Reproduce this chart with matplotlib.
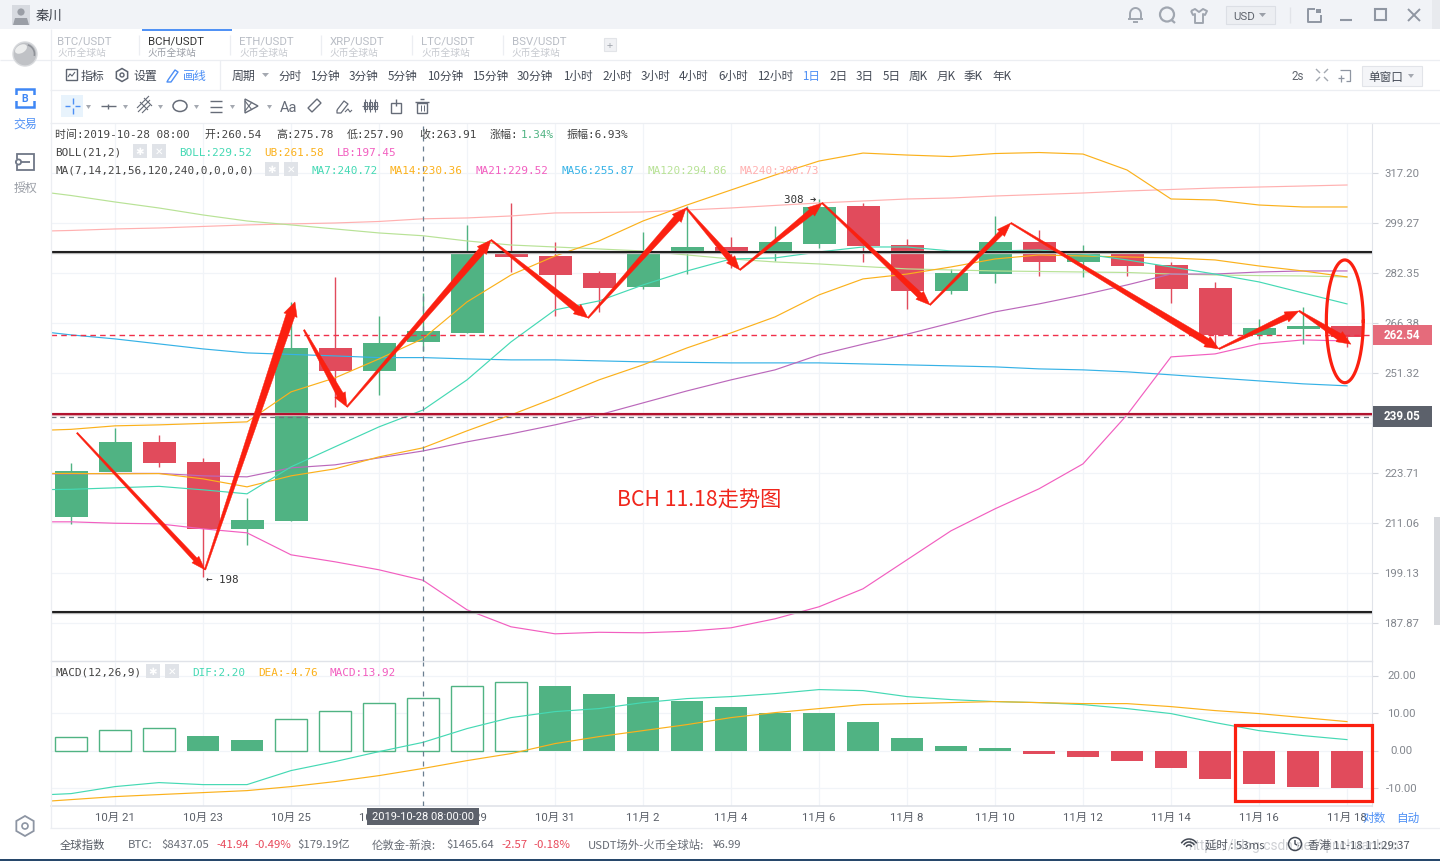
import numpy as np
import matplotlib
matplotlib.use("Agg")
import matplotlib.pyplot as plt
from matplotlib.patches import Rectangle, Polygon, Circle, RegularPolygon, Ellipse
from matplotlib.transforms import IdentityTransform, Affine2D

plt.rcParams['font.family'] = ['Noto Sans CJK SC', 'DejaVu Sans']
MONO = ['DejaVu Sans Mono', 'Noto Sans CJK SC']
ROB = ['Roboto', 'Noto Sans CJK SC']

# ---------- data ----------
opens = [212.58,224.01,231.97,226.63,209.63,211.60,258.80,251.95,260.54,263.35,289.00,288.00,282.35,277.80,289.00,291.00,
         289.00,292.10,305.20,291.70,276.50,282.00,292.75,286.00,289.00,285.00,277.50,262.70,264.55,265.45]
closes = [224.27,231.97,226.37,209.63,211.84,258.80,251.95,260.30,263.91,289.00,287.70,281.70,277.50,288.70,291.00,289.00,
          292.75,304.90,291.40,276.50,282.35,292.75,286.00,289.70,284.70,277.20,262.70,264.85,265.45,262.10]
highs = [226.37,235.78,233.87,227.70,217.30,273.00,281.05,268.60,275.78,298.60,306.30,292.75,283.00,296.20,305.30,294.40,
         298.20,307.70,306.30,293.75,283.70,301.70,296.85,291.70,289.30,286.00,279.40,267.65,271.40,265.45]
lows = [210.86,223.70,225.30,198.20,205.80,211.60,241.60,245.00,257.90,263.35,282.70,268.60,269.85,277.15,282.00,284.00,
        286.30,290.70,286.00,270.80,275.50,279.10,281.40,281.05,281.40,272.70,258.80,261.50,259.90,259.00]
# moving averages start one day before the first visible candle
ma7 = [219.37,219.50,219.88,220.26,219.37,218.35,225.31,230.63,236.05,240.72,249.32,260.58,270.47,273.32,278.45,283.02,
       287.00,287.34,289.35,291.03,291.03,289.68,289.68,290.02,288.68,286.67,284.34,282.00,279.43,275.87,272.37]
ma14 = [223.60,223.60,223.49,223.55,222.19,220.13,222.97,224.79,227.95,230.36,234.96,239.36,244.15,249.32,253.71,258.77,
        263.33,268.28,275.24,280.41,282.00,284.34,287.00,288.34,288.00,287.67,287.34,286.67,284.67,283.02,281.05]
ma21 = [223.49,223.49,223.60,223.60,222.97,222.71,225.05,225.84,227.69,229.52,231.97,234.14,236.60,239.36,242.73,246.14,
        249.32,252.24,256.68,259.89,262.94,266.38,269.85,272.37,275.24,278.45,282.00,282.00,282.68,283.02,283.02]
ma56 = [264.25,262.72,261.50,259.98,258.47,257.27,256.82,256.37,255.87,255.87,255.48,255.19,255.19,254.90,254.60,254.45,
        254.30,254.30,254.30,254.00,253.71,253.42,253.12,252.53,252.24,251.66,250.79,249.90,249.03,248.17,247.60]
ma120 = [310.99,309.00,306.68,304.54,302.08,299.97,298.60,297.20,295.82,294.86,293.08,291.70,291.03,290.36,289.68,288.34,
         287.00,286.00,285.34,284.50,283.70,283.35,283.02,282.85,282.68,282.52,282.00,281.70,281.50,281.38,281.05]
ma240 = [296.33,296.68,297.20,297.54,298.07,298.60,298.95,299.27,299.80,300.73,301.03,301.73,302.79,302.96,303.13,303.84,
         304.55,305.45,306.32,307.03,307.75,308.10,308.82,309.36,309.90,310.63,311.17,311.71,312.07,312.43,312.80]
boll_ub = [234.96,235.37,236.33,236.60,237.00,237.43,245.86,249.90,255.48,261.58,273.00,281.70,288.00,293.08,299.97,305.60,
           310.99,316.46,321.64,324.65,323.90,323.33,324.47,324.85,324.27,318.31,307.75,307.39,305.60,304.90,304.90]
boll_lb = [211.35,211.35,211.00,210.86,209.63,208.66,203.39,201.74,199.87,197.45,190.78,187.04,185.52,185.85,185.74,186.07,
           186.82,188.79,191.45,195.50,202.21,209.15,214.57,219.63,226.10,239.36,256.08,256.97,260.00,261.19,260.89]
macd_hist = [3.73,5.60,6.13,4.00,2.93,8.53,10.67,12.80,13.92,17.33,18.40,17.33,15.20,14.40,13.33,11.73,
             10.13,10.13,7.73,3.47,1.33,0.80,-0.80,-1.60,-2.67,-4.53,-7.47,-8.80,-9.60,-9.87]
dif = [-12.00,-11.47,-9.60,-8.53,-9.07,-9.07,-5.33,-2.93,-0.27,2.20,5.87,8.80,10.40,11.20,12.80,13.87,
       14.40,15.20,16.27,16.00,14.40,13.60,13.07,12.80,12.27,11.20,9.87,7.47,5.33,4.00,2.93]
dea = [-13.87,-13.07,-12.27,-11.73,-11.20,-10.67,-9.60,-8.27,-6.67,-4.76,-2.67,-0.80,1.87,3.73,5.33,6.93,
       8.80,10.13,11.20,12.27,12.53,12.80,13.07,12.80,12.53,12.53,11.73,10.67,9.87,8.80,7.73]
price_ticks = [317.20,299.27,282.35,266.38,251.32,237.11,223.71,211.06,199.13,187.87]
macd_ticks = [20.0,10.0,0.0,-10.0]
date_labels = ['10月 21','10月 23','10月 25','10月 27','10月 29','10月 31','11月 2','11月 4','11月 6','11月 8',
               '11月 10','11月 12','11月 14','11月 16','11月 18']
levels_black = [289.18,190.34]
level_red = 239.56
level_last = 262.54
level_cross = 238.80
cross_day = 8
arrow_from = [(0.136,234.41),(3.045,199.87),(5.295,264.25),(6.27,241.60),(9.545,293.42),(11.75,267.96),(13.98,304.55),
              (15.20,283.35),(17.07,306.32),(19.52,272.05),(21.36,299.27),(26.09,258.47),(27.91,270.15)]
arrow_to = [(3.045,199.87),(5.09,273.00),(6.27,241.60),(9.545,293.42),(11.75,267.96),(13.98,304.55),(15.20,283.35),
            (17.07,306.32),(19.52,272.05),(21.36,299.27),(26.09,258.47),(27.91,270.15),(29.09,259.89)]
arrow_necks = [4.5,9,7,7,7,7,6,6,6,5,7,6,7]

# ---------- colours ----------
GREEN, RED = '#50b383', '#e14b5c'
TEAL, ORANGE, PINK, BLUE, LGREEN, SALMON = '#45d9b4', '#fbb11c', '#f25fc0', '#36b2e6', '#b8e296', '#ffb0b0'
PURPLE, GRID, AXC, TXT, TICK = '#bb68bb', '#f1f4f8', '#e0e3e9', '#444a55', '#83878e'
ARROW = '#fb2010'

W, H = 1440, 862
fig = plt.figure(figsize=(W/100, H/100), dpi=100, facecolor='white')
def axpx(l, t, r, b, **k):
    return fig.add_axes([l/W, 1-b/H, (r-l)/W, (b-t)/H], **k)

L, R, T1, B1, T2, B2 = 51, 1372, 124, 662, 663, 807
ax = axpx(L, T1, R, B1)
mx = axpx(L, T2, R, B2)
days = np.arange(30)
line_days = np.arange(-1, 30)
xl = ((L-71)/44, (R-71)/44)
def nudge(labels, dy):
    for t in labels:
        t.set_transform(t.get_transform() + Affine2D().translate(0, dy))

# ---------- price pane ----------
ax.set_yscale('log')
k = np.log(price_ticks[0]/price_ticks[-1])/450.0
Y0 = 174.0
ax.set_ylim(price_ticks[0]*np.exp(-k*(B1-Y0)), price_ticks[0]*np.exp(k*(Y0-T1)))
ax.set_xlim(*xl)
ax.set_yticks(price_ticks)
ax.set_yticklabels([f'{v:.2f}' for v in price_ticks])
ax.minorticks_off()
ax.yaxis.set_minor_locator(matplotlib.ticker.NullLocator())
ax.yaxis.tick_right()
ax.set_xticks(days[1::2])
ax.tick_params(axis='x', length=0, labelbottom=False)
ax.tick_params(axis='y', length=4.3, width=0.8, color='#d5d8de', labelcolor=TICK, pad=17, labelsize=8.2)
for t in ax.get_yticklabels():
    t.set_ha('center'); t.set_family(ROB)
nudge(ax.get_yticklabels(), 1.0)
ax.grid(True, color=GRID, lw=0.9)
ax.set_axisbelow(True)

colors = [GREEN if c >= o else RED for o, c in zip(opens, closes)]
ax.vlines(days, lows, highs, colors=colors, lw=1.0, zorder=2)
ax.bar(days, np.abs(np.array(closes)-np.array(opens)), bottom=np.minimum(opens, closes), width=0.75,
       color=colors, lw=0, zorder=2.1)
for vals, c in [(ma240, SALMON), (ma120, LGREEN), (ma56, BLUE), (ma21, PURPLE), (ma14, ORANGE), (ma7, TEAL),
                (boll_ub, ORANGE), (boll_lb, PINK)]:
    ax.plot(line_days, vals, color=c, lw=0.85, zorder=3, solid_joinstyle='miter')

for y in levels_black:
    ax.axhline(y, color='#b5b5b5', lw=2.4, zorder=4)
    ax.axhline(y, color='#111111', lw=1.3, zorder=4.1)
ax.axhline(level_red, color='#dfa0aa', lw=2.4, zorder=4)
ax.axhline(level_red, color='#b0102c', lw=1.4, zorder=4.1)
ax.axhline(level_last, color='#f0304a', lw=1.0, dashes=(4, 3), zorder=4)
ax.axhline(level_cross, color='#6b7280', lw=0.9, dashes=(4, 3), zorder=4)
ax.axvline(cross_day, color='#6b7f90', lw=0.9, dashes=(4, 4), zorder=4)

ax.annotate('308 ➔', (17, 307.7), xytext=(-35, 0), textcoords='offset pixels', va='center', fontsize=7.8,
            family=['DejaVu Sans Mono'], color='#333333', zorder=5)
ax.annotate('← 198', (3, 198.2), xytext=(3, -2), textcoords='offset pixels', va='center', fontsize=7.8,
            family=['DejaVu Sans Mono'], color='#333333', zorder=5)

# hand-drawn style red arrows, tapered from tail to head
def tapered(p0, p1, neck, a=ax, tail=1.5, hl=14.0):
    s = a.transData.transform(p0); e = a.transData.transform(p1)
    d = e - s; n = np.hypot(*d); u = d/n; v = np.array([-u[1], u[0]])
    b = e - u*hl
    head = neck + 5
    pts = [s+v*tail/2, b+v*neck/2, b+v*head/2, e, b-v*head/2, b-v*neck/2, s-v*tail/2]
    fig.add_artist(Polygon(pts, closed=True, transform=IdentityTransform(), fc=ARROW, ec=ARROW, lw=0.3, zorder=6))
fig.canvas.draw()
for p0, p1, nk in zip(arrow_from, arrow_to, arrow_necks):
    tapered(p0, p1, nk)
# circled last candle
th = np.linspace(0, 2*np.pi, 200)
cx, rx = 28.95, 0.42
ptop, pbot = 286.67, 248.50
lc = (np.log(ptop)+np.log(pbot))/2
lr = (np.log(ptop)-np.log(pbot))/2
ax.plot(cx+rx*np.cos(th), np.exp(lc+lr*np.sin(th)), color=ARROW, lw=2.3, zorder=6)

# ---------- MACD pane ----------
Z0 = 751.6
mx.set_ylim(-(B2-Z0)/3.75, (Z0-T2)/3.75)
mx.set_xlim(*xl)
mx.set_yticks(macd_ticks)
mx.set_yticklabels([f'{v:.2f}' for v in macd_ticks])
mx.yaxis.tick_right()
mx.set_xticks(days[1::2])
mx.set_xticklabels(date_labels)
mx.tick_params(axis='x', length=0, pad=4.4, labelcolor='#5a5f68', labelsize=8.2)
mx.tick_params(axis='y', length=4.3, width=0.8, color='#d5d8de', labelcolor=TICK, pad=17, labelsize=8.2)
for t in mx.get_yticklabels() + mx.get_xticklabels():
    t.set_family(ROB)
for t in mx.get_yticklabels():
    t.set_ha('center')
nudge(mx.get_yticklabels(), 1.4)
mx.grid(True, color=GRID, lw=0.9)
mx.set_axisbelow(True)
prev = None
for d, v in zip(days, macd_hist):
    rising = prev is None or v > prev
    if v >= 0 and rising:
        mx.bar(d, v, width=0.71, fc='white', ec=GREEN, lw=1.0, zorder=2)
    else:
        mx.bar(d, v, width=0.74, color=GREEN if v >= 0 else RED, lw=0, zorder=2)
    prev = v
mx.plot(line_days, dif, color=TEAL, lw=0.85, zorder=3)
mx.plot(line_days, dea, color=ORANGE, lw=0.85, zorder=3)
mx.axvline(cross_day, color='#6b7f90', lw=0.9, dashes=(4, 4), zorder=4)
mx.add_patch(Rectangle((26.45, -13.47), 3.11, 20.4, fill=False, ec=ARROW, lw=2.3, zorder=6, clip_on=False))

for a in (ax, mx):
    for s in a.spines.values():
        s.set_visible(False)
    a.spines['right'].set_visible(True); a.spines['right'].set_color(AXC)
    a.patch.set_alpha(0)
    a.spines['bottom'].set_visible(True); a.spines['bottom'].set_color(AXC)
ax.spines['bottom'].set_linewidth(1.0)
mx.spines['bottom'].set_linewidth(1.2)

# ---------- application chrome (pixel coordinates) ----------
ui = axpx(0, 0, W, H, zorder=10)
ui.set_xlim(0, W); ui.set_ylim(H, 0); ui.axis('off'); ui.patch.set_alpha(0)
def box(x0, y0, x1, y1, fc='none', ec='none', lw=0.8, z=1):
    ui.add_patch(Rectangle((x0, y0), x1-x0, y1-y0, fc=fc, ec=ec, lw=lw, zorder=z))
def ln(xs, ys, c='#7d8593', lw=1.0, z=2):
    ui.plot(xs, ys, color=c, lw=lw, zorder=z, solid_capstyle='butt')
def tx(x, y, s, c='#444a55', fs=8.4, ha='left', fam=None, z=3, **kw):
    ui.text(x, y+0.6, s, color=c, fontsize=fs, ha=ha, va='center', family=fam or plt.rcParams['font.family'], zorder=z, **kw)

box(0, 0, W, 30, fc='#f1f3f7')
box(1432, 0, W, 30, fc='#e8eaee')
box(12, 6, 30, 26, fc='#d7dae0')
ui.add_patch(Circle((21, 13), 3.6, fc='#9a9ea6', ec='none', zorder=2))
ui.add_patch(Polygon([(13, 26), (15, 19), (27, 19), (29, 26)], fc='#9a9ea6', ec='none', zorder=2))
tx(36, 15, '秦川', '#3a3f48', 9.6)
# window buttons
t_ = np.linspace(np.pi, 2*np.pi, 20)
G = '#a0a6b0'
ui.plot(np.r_[1130, 1135.5+5.5*np.cos(t_), 1141], np.r_[19, 15+6*np.sin(t_), 19], color=G, lw=1.4, zorder=2)
ln([1128, 1143], [19.5, 19.5], G, 1.4)
ln([1133, 1138], [23, 23], G, 1.4)
ui.add_patch(Circle((1167, 15.5), 7, fc='none', ec=G, lw=1.6, zorder=2))
ln([1171, 1175], [20.5, 24], G, 1.6)
ln([1191, 1195, 1199, 1203, 1207, 1205, 1203, 1203, 1195, 1195, 1193, 1191],
   [12, 10, 13, 10, 12, 16, 15, 24, 24, 15, 16, 12], G, 1.4)
box(1225.5, 6.5, 1275, 25, fc='#eceef2', ec='#dcdfe5')
tx(1233, 16, 'USD', '#60656e', 8.2, fam=ROB)
ui.add_patch(Polygon([(1259, 14), (1266, 14), (1262.5, 18)], fc='#9a9fa8', ec='none', zorder=3))
ln([1290, 1290], [8, 24], '#e2e4e9')
ln([1315, 1307.5, 1307.5, 1320.5, 1320.5], [9.5, 9.5, 23, 23, 16], '#8f96a2', 1.4)
box(1316, 9.5, 1320.5, 13.5, fc='#8f96a2', z=2)
ln([1340, 1352], [21, 21], '#8f96a2', 1.5)
box(1375, 10, 1386, 21, ec='#8f96a2', lw=1.5, z=2)
ln([1408, 1420], [10, 22], '#8f96a2', 1.4); ln([1408, 1420], [22, 10], '#8f96a2', 1.4)

# tabs
ln([0, W], [60.5, 60.5], '#eceef2', 0.9)
ln([50, W], [91, 91], '#eceef2', 0.9)
ln([50, W], [123.5, 123.5], '#eceef2', 0.9)
ln([50.5, 50.5], [30, 829], '#eceef2', 0.9)
ln([142, 232], [30.5, 30.5], '#4d8ff5', 1.4)
for i, (x, n) in enumerate(zip([57, 148, 239, 330, 421, 512], ['BTC', 'BCH', 'ETH', 'XRP', 'LTC', 'BSV'])):
    c = '#333333' if n == 'BCH' else '#b9bdc5'
    tx(x, 41, n + '/USDT', c, 8.2, fam=ROB)
    tx(x, 52, '火币全球站', '#c6c9cf' if n != 'BCH' else '#9a9ea6', 7.0)
    if x > 57:
        ln([x-9, x-9], [36, 56], '#eceef2', 0.9)
box(604, 39, 616, 52, fc='#f0f1f4', ec='#e2e4e8')
tx(610, 45, '+', '#a0a4ac', 8, ha='center')
# period row
box(66, 70, 77, 81, ec='#5d6470', lw=1.0, z=2)
ln([68, 70, 72, 75], [78, 75, 77, 73], '#5d6470', 0.8)
tx(81, 76, '指标', TXT, 8.6)
ui.add_patch(RegularPolygon((122, 76), 6, radius=6.5, fc='none', ec='#5d6470', lw=1.1, zorder=2))
ui.add_patch(Circle((122, 76), 2, fc='none', ec='#5d6470', lw=1, zorder=2))
tx(133, 76, '设置', TXT, 8.6)
ln([168, 175, 178, 171, 167, 168], [81, 71, 73, 83, 83, 81], '#4d8ff5', 1.0)
tx(183, 76, '画线', '#4d8ff5', 8.6)
ln([219.5, 219.5], [61, 91], '#eceef2', 0.9)
tx(232, 76, '周期', TXT, 8.6)
ui.add_patch(Polygon([(262, 74), (269, 74), (265.5, 78)], fc='#a5a9b1', ec='none', zorder=3))
periods = ['分时', '1分钟', '3分钟', '5分钟', '10分钟', '15分钟', '30分钟', '1小时', '2小时', '3小时', '4小时', '6小时', '12小时',
           '1日', '2日', '3日', '5日', '周K', '月K', '季K', '年K']
period_x = [278, 310, 349, 388, 427, 472, 517, 563, 602, 641, 679, 718, 757, 802, 829, 856, 883, 909, 937, 964, 992]
for p, x in zip(periods, period_x):
    tx(x, 76, p, '#4d8ff5' if p == '1日' else TXT, 8.4)
tx(1292, 76, '2s', '#60656e', 8.4, fam=ROB)
for sx, sy in [(-1, -1), (1, -1), (-1, 1), (1, 1)]:
    ln([1322+sx*2, 1322+sx*6], [76+sy*2, 76+sy*6], '#a3a8b0', 1.0)
ln([1340, 1350, 1350, 1346], [71, 71, 82, 82], '#8f96a2', 0.9)
ln([1338, 1344], [79, 79], '#8f96a2', 0.9); ln([1341, 1341], [76, 83], '#8f96a2', 0.9)
box(1362, 67, 1422, 87, fc='#f4f5f8', ec='#e2e4e9')
tx(1368, 77, '单窗口', TXT, 8.4)
ui.add_patch(Polygon([(1408, 75), (1414, 75), (1411, 79)], fc='#a5a9b1', ec='none', zorder=3))
# tool row
box(61, 96, 83, 118, fc='#e8f3fc')
ln([72.5, 72.5], [99, 105], '#4d8ff5'); ln([72.5, 72.5], [109, 115], '#4d8ff5')
ln([65, 70], [107, 107], '#4d8ff5'); ln([75, 80], [107, 107], '#4d8ff5')
ICON = '#666c78'
for x in [85, 122, 157, 193, 229, 266]:
    ui.add_patch(Polygon([(x+1, 106), (x+6, 106), (x+3.5, 110)], fc='#a5a9b1', ec='none', zorder=3))
ln([101, 116], [107, 107], ICON); ln([108, 108], [104.5, 109.5], ICON)
ln([138, 150], [113, 101], ICON, 0.8); ln([142, 150], [114, 106], ICON, 0.8)
ln([137, 149], [109, 97], ICON, 0.8); ln([140, 148], [103, 111], ICON, 0.8); ln([144, 152], [99, 107], ICON, 0.8)
ui.add_patch(Ellipse((180, 107), 14, 11, fc='none', ec=ICON, lw=1.1, zorder=2))
for y in (102, 107.5, 113):
    ln([210, 222], [y, y], ICON, 1.0)
ui.add_patch(Polygon([(245, 100), (258, 107), (245, 114)], fc='none', ec=ICON, lw=1.0, zorder=2))
ln([245, 252], [102, 111], ICON, 0.8); ln([245, 252], [112, 103], ICON, 0.8)
tx(280, 107, 'Aa', ICON, 10.6, fam=ROB)
ui.add_patch(Polygon([(308, 109), (317, 100), (321, 104), (312, 113)], fc='none', ec=ICON, lw=1.0, zorder=2))
ln([337, 344, 348, 341, 337, 337], [111, 102, 105, 114, 114, 111], ICON, 0.9)
ln([345, 348, 350, 352], [113, 110, 113, 111], ICON, 0.8)
for x in (365, 370, 375):
    box(x-1.5, 103, x+1.5, 110, ec=ICON, lw=0.8, z=2); ln([x, x], [100, 113], ICON, 0.8)
ln([362, 378], [106.5, 106.5], ICON, 0.8)
box(391, 104, 401, 114, ec=ICON, lw=1.0, z=2); ln([396, 396], [100, 107], ICON, 1.0)
box(417, 104, 427, 114, ec=ICON, lw=1.0, z=2); ln([415, 429], [103, 103], ICON, 1.0); ln([420, 424], [100, 100], ICON, 1.0)
ln([420.5, 420.5], [106, 112], ICON, .7); ln([423.5, 423.5], [106, 112], ICON, .7)
# sidebar
ui.add_patch(Circle((25, 55), 12, fc='#c0c2c6', ec='#d8dadd', lw=1, zorder=2))
ui.add_patch(Ellipse((21, 50), 13, 8, angle=-30, fc='#eceded', ec='none', zorder=2))
t2 = np.linspace(0.1, 1.4, 20)
ui.plot(25+9.5*np.cos(t2+5), 55+9.5*np.sin(t2+5), color='#8f9298', lw=1.2, zorder=3)
box(16, 90, 34, 107.5, ec='#3f87f5', lw=1.8, z=2)
box(14, 96, 18, 102, fc='white', z=3); box(32, 96, 36, 102, fc='white', z=3)
tx(25, 98, 'B', '#3f87f5', 7.6, ha='center', weight='bold', fam=ROB)
tx(25, 124, '交易', '#4d8ff5', 8.6, ha='center')
box(17, 155, 34, 171, ec='#6f7787', lw=1.3, z=2)
box(14, 160, 20, 166, fc='white', z=3)
ui.add_patch(Circle((18.5, 163), 2.6, fc='white', ec='#6f7787', lw=1.3, zorder=4))
ln([21, 30], [163, 163], '#6f7787', 1.3)
tx(25, 188, '授权', '#9a9ea6', 8.6, ha='center')
ui.add_patch(RegularPolygon((25, 827), 6, radius=10, fc='none', ec='#8d95a3', lw=1.3, zorder=2))
ui.add_patch(Circle((25, 827), 3, fc='none', ec='#8d95a3', lw=1.2, zorder=2))

# legends
def gearx(x, y):
    for xx, ch in ((x, '✱'), (x+19, '✕')):
        box(xx, y-7, xx+14, y+7, fc='#e0e3e8')
        tx(xx+7, y-0.6, ch, 'white', 7.4, ha='center', fam=['DejaVu Sans'], weight='bold')
M = 7.9
y = 134
for x, s, c in [(55, '时间:2019-10-28 08:00', '#444444'), (204, '开:260.54', '#444444'), (276, '高:275.78', '#444444'),
                (347, '低:257.90', '#444444'), (419, '收:263.91', '#444444'), (490, '涨幅:', '#444444'),
                (521, '1.34%', GREEN), (567, '振幅:6.93%', '#444444')]:
    tx(x, y, s, c, M, fam=MONO)
y = 152
tx(55, y, 'BOLL(21,2)', '#444444', M, fam=MONO); gearx(133, y)
for x, s, c in [(179, 'BOLL:229.52', TEAL), (264, 'UB:261.58', ORANGE), (337, 'LB:197.45', PINK)]:
    tx(x, y, s, c, M, fam=MONO)
y = 170
tx(55, y, 'MA(7,14,21,56,120,240,0,0,0,0)', '#444444', M, fam=MONO); gearx(265, y)
for x, s, c in [(311, 'MA7:240.72', TEAL), (390, 'MA14:230.36', ORANGE), (476, 'MA21:229.52', PINK),
                (561, 'MA56:255.87', BLUE), (647, 'MA120:294.86', LGREEN), (739, 'MA240:300.73', SALMON)]:
    tx(x, y, s, c, M, fam=MONO)
y = 672
tx(55, y, 'MACD(12,26,9)', '#444444', M, fam=MONO); gearx(146, y)
for x, s, c in [(192, 'DIF:2.20', TEAL), (258, 'DEA:-4.76', ORANGE), (330, 'MACD:13.92', PINK)]:
    tx(x, y, s, c, M, fam=MONO)

tx(617, 499.5, 'BCH 11.18走势图', '#f0261c', 15.3)
# value tags
box(1373, 326, 1432, 346, fc='#e56b7b')
tx(1402, 335, '262.54', 'white', 8.4, ha='center', weight='bold', fam=ROB)
box(1373, 407, 1432, 428, fc='#5c616b')
tx(1402, 416, '239.05', 'white', 8.4, ha='center', weight='bold', fam=ROB)
box(367, 809, 479, 826, fc='#5c616b')
tx(423, 816.5, '2019-10-28 08:00:00', 'white', 8.0, ha='center', fam=ROB)
tx(1362, 818, '对数', '#4d8ff5', 8.4); tx(1396, 818, '自动', '#4d8ff5', 8.4)

# status bar
ln([50, W], [829, 829], '#eceef2', 0.9)
y = 844.5
tx(1188, 845, 'https://blog.csdn.net/qinchuanhuo', '#cfd1d5', 9.8, z=2.5, fam=ROB)
for x, s, c in [(60, '全球指数', '#555a63'), (128, 'BTC:', '#666b74'), (161, '$8437.05', '#666b74'), (216, '-41.94', '#e8485a'),
                (254, '-0.49%', '#e8485a'), (297, '$179.19亿', '#666b74'), (372, '伦敦金-新浪:', '#666b74'),
                (446, '$1465.64', '#666b74'), (501, '-2.57', '#e8485a'), (533, '-0.18%', '#e8485a'),
                (588, 'USDT场外-火币全球站:', '#666b74'), (713, '¥6.99', '#666b74'),
                (1205, '延时 : 53ms', '#555a63'), (1308, '香港 11-18 11:29:37', '#555a63')]:
    tx(x, y, s, c, 8.2)
for r, lw_ in ((9, 1.1), (6, 1.1), (3, 1.1)):
    t_ = np.linspace(np.pi*1.2, np.pi*1.8, 20)
    ui.plot(1189+r*np.cos(t_), 849+r*np.sin(t_), color='#444a55', lw=lw_, zorder=3)
ui.add_patch(Circle((1295, 845), 6.5, fc='none', ec='#444a55', lw=1.1, zorder=3))
ln([1295, 1295, 1299], [841, 845, 847], '#444a55', 1.0)
box(0, 860, W, 862, fc='#27476b')
box(1434, 518, 1440, 626, fc='#d6d8dc')

fig.savefig('out.png', dpi=100, facecolor='white')
